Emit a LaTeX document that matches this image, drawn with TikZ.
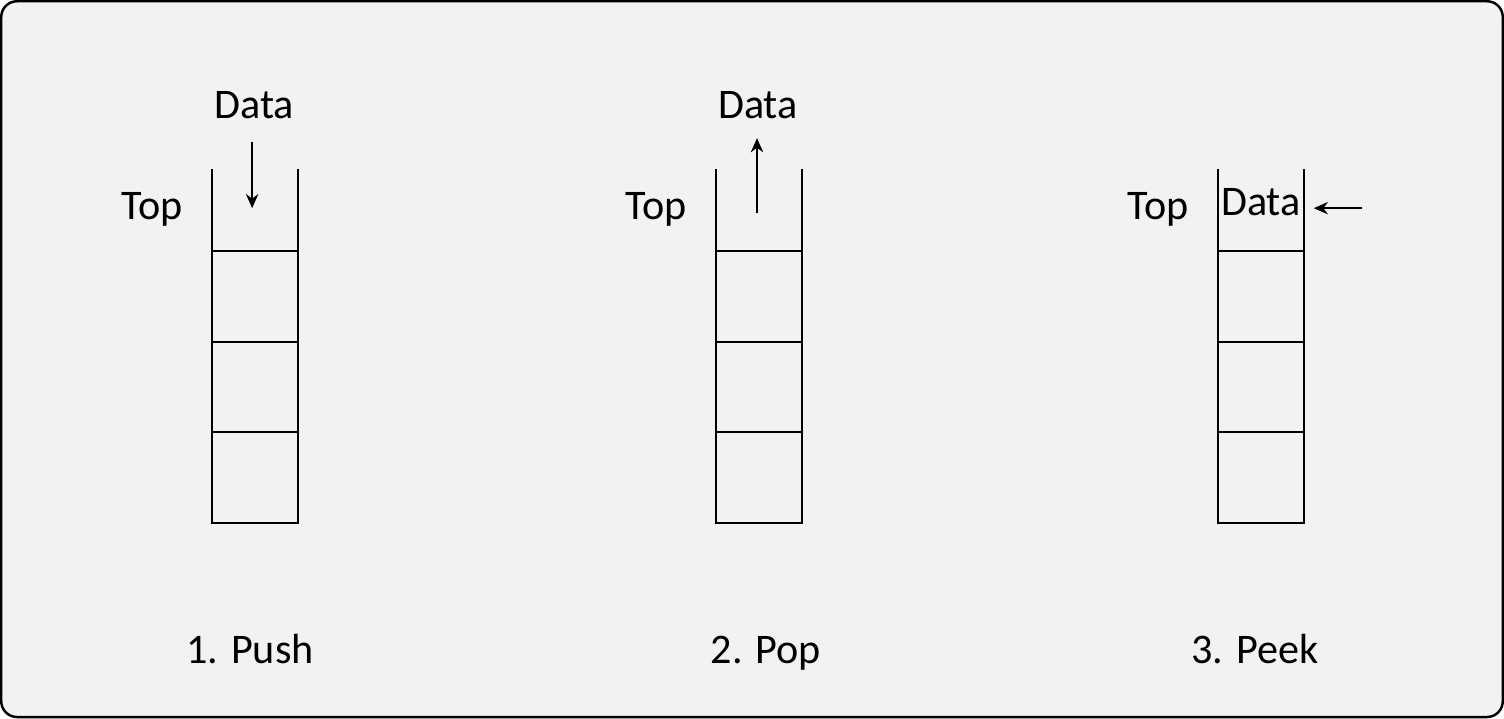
\documentclass[tikz,border=0pt]{standalone}
\usepackage{fontspec}
\setmainfont{Carlito}
\usetikzlibrary{arrows.meta}
\definecolor{panel}{HTML}{F2F2F2}
\tikzset{
  lbl/.style={inner sep=0pt,anchor=base,font=\fontsize{24}{28}\selectfont},
  wall/.style={line width=1.5pt,line cap=rect},
  arr/.style={line width=1.3pt,-{Stealth[length=8pt,width=7pt]}}
}
\begin{document}
\begin{tikzpicture}[x=0.02cm,y=-0.02cm]
\draw[line width=1.4pt,fill=panel,rounded corners=9pt] (1,1) rectangle (1503,717);

% push
\draw[wall] (212,170) -- (212,523) -- (298,523) -- (298,170);
\draw[wall] (212,251) -- (298,251);
\draw[wall] (212,342) -- (298,342);
\draw[wall] (212,432) -- (298,432);
\node[lbl] (data1) at (254,118) {Data};
\node[lbl] (top1) at (152,219) {Top};
\coordinate (in1) at (252,142);
\coordinate (to1) at (252,208);
\draw[arr] (in1) -- (to1);
\node[lbl] (push) at (250,663) {1. Push};

% pop
\draw[wall] (716,170) -- (716,523) -- (802,523) -- (802,170);
\draw[wall] (716,251) -- (802,251);
\draw[wall] (716,342) -- (802,342);
\draw[wall] (716,432) -- (802,432);
\node[lbl] (data2) at (758,118) {Data};
\node[lbl] (top2) at (656,219) {Top};
\coordinate (out2) at (757,213);
\coordinate (to2) at (757,138);
\draw[arr] (out2) -- (to2);
\node[lbl] (pop) at (766,663) {2. Pop};

% peek
\draw[wall] (1218,170) -- (1218,523) -- (1304,523) -- (1304,170);
\draw[wall] (1218,251) -- (1304,251);
\draw[wall] (1218,342) -- (1304,342);
\draw[wall] (1218,432) -- (1304,432);
\node[lbl] (data3) at (1261,215) {Data};
\node[lbl] (top3) at (1158,219) {Top};
\coordinate (from3) at (1362,208);
\coordinate (to3) at (1314,208);
\draw[arr] (from3) -- (to3);
\node[lbl] (peek) at (1255,663) {3. Peek};
\end{tikzpicture}
\end{document}
